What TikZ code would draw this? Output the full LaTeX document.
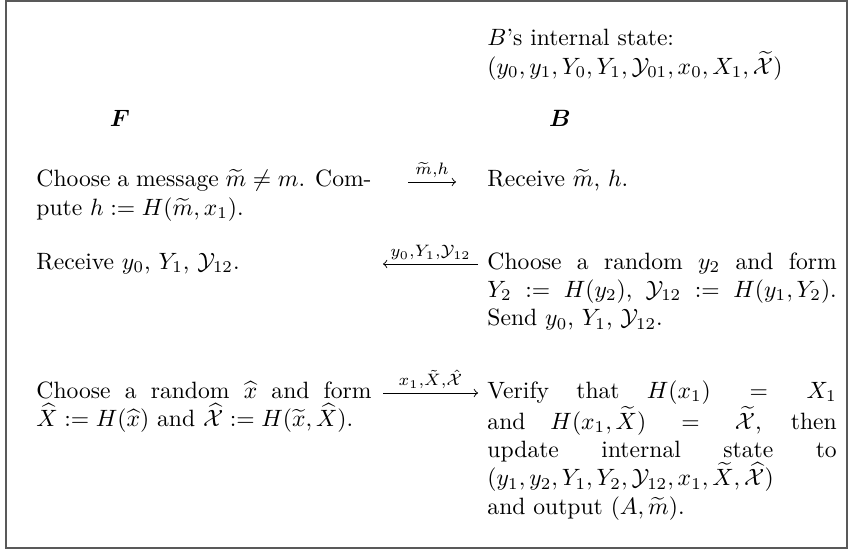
\documentclass[tikz,border=0pt]{standalone}
\usepackage{amsmath}
\usepackage{amssymb}

\tikzset{
    lcol/.style={anchor=base west, inner sep=0pt, text width=142pt, align=justify},
    rcol/.style={anchor=base west, inner sep=0pt, text width=148pt, align=justify},
    msg/.style={->},
    lbl/.style={above, inner sep=1.5pt}
}

\begin{document}
\begin{tikzpicture}[x=0.4237pt,y=-0.4237pt]
            \useasboundingbox (0,0) rectangle (848,552);
            \draw[black!65, line width=0.8pt] (6,1) rectangle (847,548);

            \node[rcol] (state) at (487,46) {$B$'s internal state:\\
                $(y_0, y_1, Y_0, Y_1, \mathcal{Y}_{01}, x_0, X_1, \widetilde{\mathcal{X}})$};

            \node[anchor=base] (F) at (120,127) {$\boldsymbol{F}$};
            \node[anchor=base] (B) at (560,127) {$\boldsymbol{B}$};

            \node[lcol] (f1) at (36,187) {Choose a message $\widetilde{m} \neq m$. Com-\linebreak pute $h := H(\widetilde{m}, x_1)$.};
            \node[rcol] (b1) at (487,187) {Receive $\widetilde{m}$, $h$.};

            \node[lcol] (f2) at (36,269) {Receive $y_0$, $Y_1$, $\mathcal{Y}_{12}$.};
            \node[rcol] (b2) at (487,269) {Choose a random $y_2$ and form\linebreak $Y_2 := H(y_2)$, $\mathcal{Y}_{12} := H(y_1, Y_2)$.\linebreak Send $y_0$, $Y_1$, $\mathcal{Y}_{12}$.};

            \node[lcol] (f3) at (36,398) {Choose a random $\widehat{x}$ and form\linebreak $\widehat{X} := H(\widehat{x})$ and $\widehat{\mathcal{X}} := H(\widetilde{x}, \widehat{X})$.};
            \node[rcol] (b3) at (487,398) {Verify that $H(x_1) = X_1$\linebreak and $H(x_1, \widetilde{X}) = \widetilde{\mathcal{X}}$, then\linebreak update internal state to\linebreak $(y_1, y_2, Y_1, Y_2, \mathcal{Y}_{12}, x_1, \widetilde{X}, \widehat{\mathcal{X}})$\\ and output $(A, \widetilde{m})$.};

            \coordinate (s1) at (408,182);
            \coordinate (e1) at (456,182);
            \coordinate (s2) at (478,264);
            \coordinate (e2) at (383,264);
            \coordinate (s3) at (383,393);
            \coordinate (e3) at (478,393);

            \draw[msg] (s1) -- node[lbl] {$\scriptstyle\widetilde{m},h$} (e1);
            \draw[msg] (s2) -- node[lbl] {$\scriptstyle y_0,Y_1,\mathcal{Y}_{12}$} (e2);
            \draw[msg] (s3) -- node[lbl] {$\scriptstyle x_1,\tilde{X},\hat{\mathcal{X}}$} (e3);
        \end{tikzpicture}
\end{document}
